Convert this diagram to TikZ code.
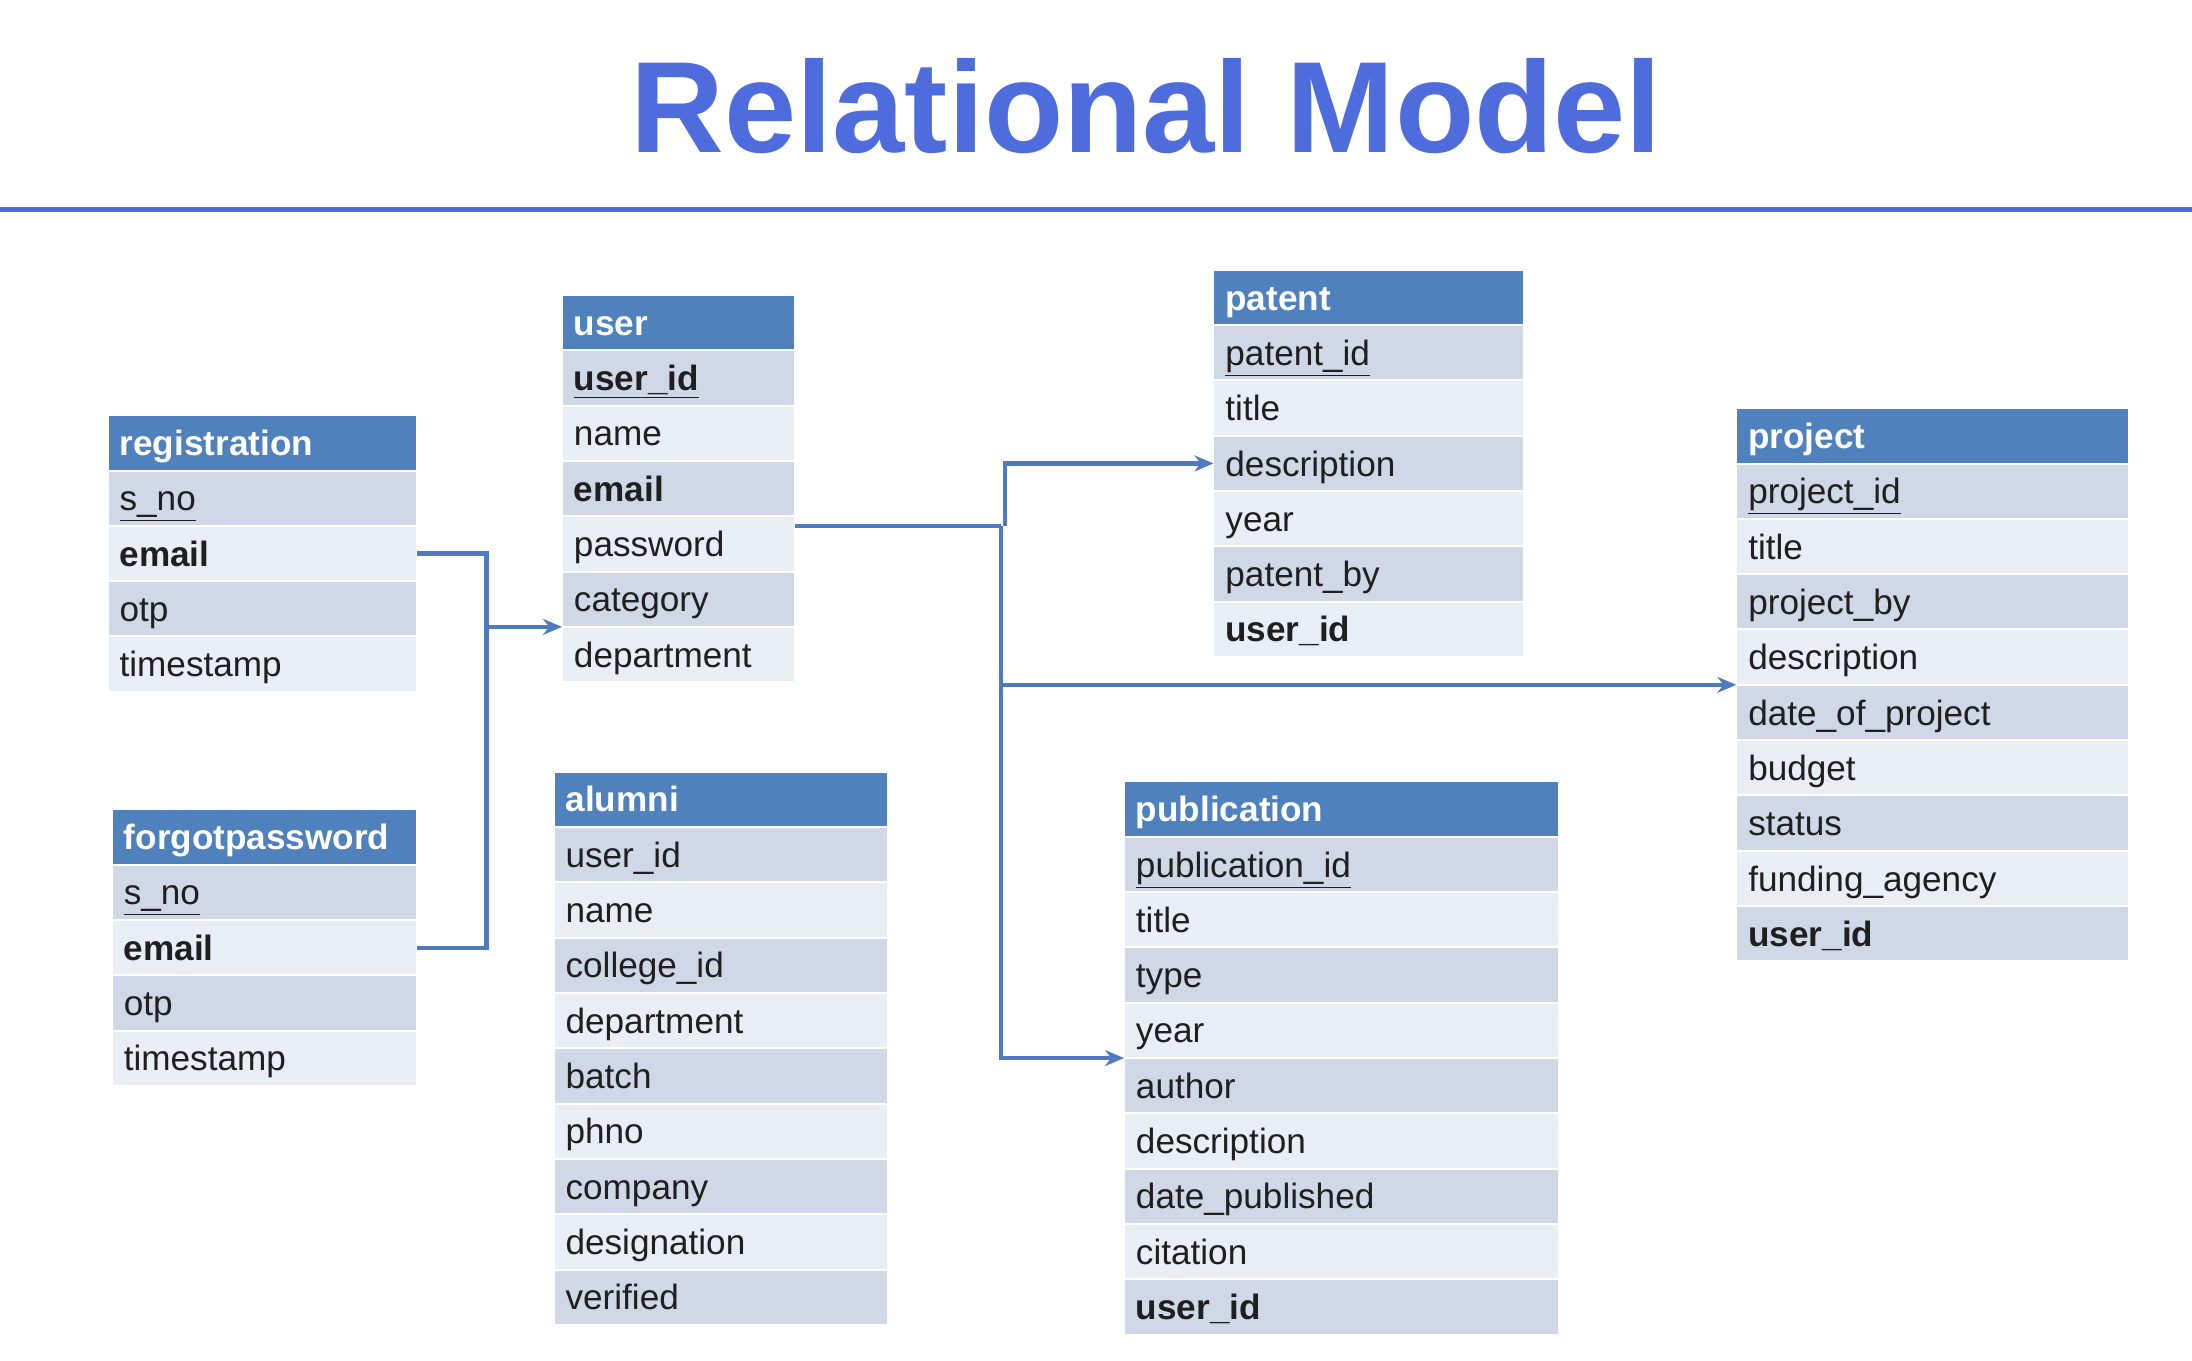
\documentclass[tikz,border=0pt]{standalone}
\usepackage{fontspec}
\setmainfont{Liberation Sans}
\usetikzlibrary{positioning, arrows.meta}

\definecolor{titleblue}{HTML}{4F6CDC}
\definecolor{hdblue}{HTML}{4F81BD}
\definecolor{rowdk}{HTML}{D0D8E8}
\definecolor{rowlt}{HTML}{E9EDF4}
\definecolor{linkblue}{HTML}{4F7AC0}

\tikzset{
    cell/.style={rectangle, draw=white, line width=1pt, outer sep=0pt,
        inner xsep=6pt, inner ysep=0pt, minimum height=27.7pt,
        text height=12.6pt, text depth=0pt, align=left,
        text=black!88, font=\fontsize{17.6}{20}\selectfont},
    hdcell/.style={cell, fill=hdblue, text=white, font=\fontsize{17.6}{20}\selectfont\bfseries},
    dkcell/.style={cell, fill=rowdk},
    ltcell/.style={cell, fill=rowlt},
    link/.style={draw=linkblue, line width=2.2pt}
}

\begin{document}
\begin{tikzpicture}[x=0.7pt, y=-0.7pt, >={Stealth[length=9.5pt, width=8pt]}]
        \useasboundingbox (0,0) rectangle (1568,973);
        \fill[white] (0,0) rectangle (1568,973);

        % Title
        \node[anchor=base, text=titleblue, font=\fontsize{65}{70}\selectfont\bfseries] (title) at (820,109) {Relational Model};
        \draw[titleblue, line width=2.4pt] (0,150) -- (1568,150);

        % Nodes: registration
        \begin{scope}[every node/.append style={text width=142.7pt}]
        \node[hdcell, anchor=north west] (reg) at (77,297) {registration};
        \node[dkcell, below=0pt of reg] (reg-sno) {\underline{s\_no}};
        \node[ltcell, below=0pt of reg-sno] (reg-email) {\textbf{email}};
        \node[dkcell, below=0pt of reg-email] (reg-otp) {otp};
        \node[ltcell, below=0pt of reg-otp] (reg-time) {timestamp};
        \end{scope}

        % Nodes: forgotpassword
        \begin{scope}[every node/.append style={text width=140.6pt}]
        \node[hdcell, anchor=north west] (fp) at (80,579) {forgotpassword};
        \node[dkcell, below=0pt of fp] (fp-sno) {\underline{s\_no}};
        \node[ltcell, below=0pt of fp-sno] (fp-email) {\textbf{email}};
        \node[dkcell, below=0pt of fp-email] (fp-otp) {otp};
        \node[ltcell, below=0pt of fp-otp] (fp-time) {timestamp};
        \end{scope}

        % Nodes: user
        \begin{scope}[every node/.append style={text width=104.9pt}]
        \node[hdcell, anchor=north west] (user) at (402,211) {user};
        \node[dkcell, below=0pt of user] (user-id) {\underline{\textbf{user\_id}}};
        \node[ltcell, below=0pt of user-id] (user-name) {name};
        \node[dkcell, below=0pt of user-name] (user-email) {\textbf{email}};
        \node[ltcell, below=0pt of user-email] (user-pass) {password};
        \node[dkcell, below=0pt of user-pass] (user-cat) {category};
        \node[ltcell, below=0pt of user-cat] (user-dept) {department};
        \end{scope}

        % Nodes: alumni
        \begin{scope}[every node/.append style={text width=155.3pt}]
        \node[hdcell, anchor=north west] (alu) at (396,552) {alumni};
        \node[dkcell, below=0pt of alu] (alu-uid) {user\_id};
        \node[ltcell, below=0pt of alu-uid] (alu-name) {name};
        \node[dkcell, below=0pt of alu-name] (alu-college) {college\_id};
        \node[ltcell, below=0pt of alu-college] (alu-dept) {department};
        \node[dkcell, below=0pt of alu-dept] (alu-batch) {batch};
        \node[ltcell, below=0pt of alu-batch] (alu-phno) {phno};
        \node[dkcell, below=0pt of alu-phno] (alu-company) {company};
        \node[ltcell, below=0pt of alu-company] (alu-desig) {designation};
        \node[dkcell, below=0pt of alu-desig] (alu-verified) {verified};
        \end{scope}

        % Nodes: patent
        \begin{scope}[every node/.append style={text width=143.4pt}]
        \node[hdcell, anchor=north west] (pat) at (868,193) {patent};
        \node[dkcell, below=0pt of pat] (pat-id) {\underline{patent\_id}};
        \node[ltcell, below=0pt of pat-id] (pat-title) {title};
        \node[dkcell, below=0pt of pat-title] (pat-desc) {description};
        \node[ltcell, below=0pt of pat-desc] (pat-year) {year};
        \node[dkcell, below=0pt of pat-year] (pat-by) {patent\_by};
        \node[ltcell, below=0pt of pat-by] (pat-uid) {\textbf{user\_id}};
        \end{scope}

        % Nodes: project
        \begin{scope}[every node/.append style={text width=184.7pt}]
        \node[hdcell, anchor=north west] (proj) at (1242,292) {project};
        \node[dkcell, below=0pt of proj] (proj-id) {\underline{project\_id}};
        \node[ltcell, below=0pt of proj-id] (proj-title) {title};
        \node[dkcell, below=0pt of proj-title] (proj-by) {project\_by};
        \node[ltcell, below=0pt of proj-by] (proj-desc) {description};
        \node[dkcell, below=0pt of proj-desc] (proj-date) {date\_of\_project};
        \node[ltcell, below=0pt of proj-date] (proj-budget) {budget};
        \node[dkcell, below=0pt of proj-budget] (proj-status) {status};
        \node[ltcell, below=0pt of proj-status] (proj-fund) {funding\_agency};
        \node[dkcell, below=0pt of proj-fund] (proj-uid) {\textbf{user\_id}};
        \end{scope}

        % Nodes: publication
        \begin{scope}[every node/.append style={text width=205.7pt}]
        \node[hdcell, anchor=north west] (pub) at (804,559) {publication};
        \node[dkcell, below=0pt of pub] (pub-id) {\underline{publication\_id}};
        \node[ltcell, below=0pt of pub-id] (pub-title) {title};
        \node[dkcell, below=0pt of pub-title] (pub-type) {type};
        \node[ltcell, below=0pt of pub-type] (pub-year) {year};
        \node[dkcell, below=0pt of pub-year] (pub-author) {author};
        \node[ltcell, below=0pt of pub-author] (pub-desc) {description};
        \node[dkcell, below=0pt of pub-desc] (pub-date) {date\_published};
        \node[ltcell, below=0pt of pub-date] (pub-cite) {citation};
        \node[dkcell, below=0pt of pub-cite] (pub-uid) {\textbf{user\_id}};
        \end{scope}

        % Arrows
        \coordinate (regbus) at ([xshift=35pt]reg-email.east);
        \draw[link] (reg-email.east) -- (regbus) |- (fp-email.east);
        \draw[link, ->] (regbus |- user-dept.north west) -- (user-dept.north west);

        \coordinate (userbus) at ([xshift=103pt, yshift=-5pt]user-pass.north east);
        \draw[link] ([yshift=-5pt]user-pass.north east) -- (userbus);
        \draw[link, ->] ([xshift=2pt]userbus) |- (pat-desc.west);
        \draw[link, ->] (userbus) |- (pub-author.north west);
        \draw[link, ->] (userbus |- proj-date.north west) -- (proj-date.north west);
    \end{tikzpicture}
\end{document}
